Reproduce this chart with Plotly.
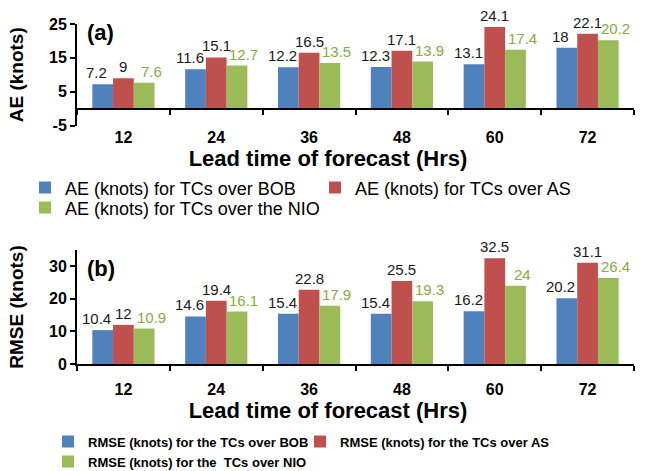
import plotly.graph_objects as go

lead_times = ["12", "24", "36", "48", "60", "72"]
ae_bob = [7.2, 11.6, 12.2, 12.3, 13.1, 18]
ae_as = [9, 15.1, 16.5, 17.1, 24.1, 22.1]
ae_nio = [7.6, 12.7, 13.5, 13.9, 17.4, 20.2]
rmse_bob = [10.4, 14.6, 15.4, 15.4, 16.2, 20.2]
rmse_as = [12, 19.4, 22.8, 25.5, 32.5, 31.1]
rmse_nio = [10.9, 16.1, 17.9, 19.3, 24, 26.4]

ae_names = ["AE (knots) for TCs over BOB", "AE (knots) for TCs over AS", "AE (knots) for TCs over the NIO"]
rmse_names = ["<b>RMSE (knots) for the TCs over BOB</b>", "<b>RMSE (knots) for the TCs over AS</b>",
              "<b>RMSE (knots) for the  TCs over NIO</b>"]

BLUE, RED, GREEN = "#4F81BD", "#C0504D", "#9BBB59"
GREEN_TXT = "#86AC3C"
FONT = "Liberation Sans"
W, H = 649, 471
XTITLE = "<b>Lead time of forecast (Hrs)</b>" + "&nbsp;" * 9
BARGAP = 0.33
X0, X1 = 77, 634


def py(px):
    return 1 - px / H


fig = go.Figure()
colors = [BLUE, RED, GREEN]
txtcolors = ["#1a1a1a", "#1a1a1a", GREEN_TXT]

# legend placement (text start x, row center y) in pixels
ae_leg = [(65, 186), (355, 186), (65, 206)]
rmse_leg = [(88, 440), (340, 440), (88, 460)]

bar_w = (X1 - X0) / len(lead_times) * (1 - BARGAP) / 3
label_spread = [-6, 0, 7]

panels = [([ae_bob, ae_as, ae_nio], ae_names, "x", "y", ["legend", "legend2", "legend3"]),
          ([rmse_bob, rmse_as, rmse_nio], rmse_names, "x2", "y2", ["legend4", "legend5", "legend6"])]

for series, names, xa, ya, legs in panels:
    for j, (vals, name) in enumerate(zip(series, names)):
        fig.add_trace(go.Bar(x=lead_times, y=vals, name=name,
                             marker=dict(color=colors[j], line=dict(width=0)),
                             xaxis=xa, yaxis=ya, legend=legs[j]))
        for idx, v in enumerate(vals):
            # category axes place annotations by category serial number
            fig.add_annotation(x=idx, y=v, xref=xa, yref=ya, text=f"{v:g}", showarrow=False,
                               yanchor="bottom", xanchor="center",
                               xshift=(j - 1) * bar_w + label_spread[j], yshift=1,
                               font=dict(size=15, family=FONT, color=txtcolors[j]))

axis_common = dict(showgrid=False, zeroline=False, showline=True, linecolor="black", linewidth=2,
                   ticks="outside", ticklen=5, tickwidth=2, tickcolor="black", automargin=False,
                   tickfont=dict(family=FONT, size=16, color="black"))

legends = {}
for k, (tx, ty) in enumerate(ae_leg + rmse_leg):
    key = "legend" if k == 0 else "legend%d" % (k + 1)
    fs = 18 if k < 3 else 13
    legends[key] = dict(orientation="h", x=(tx - 40) / W, y=py(ty - (5 + 0.65 * fs)),
                        xanchor="left", yanchor="top",
                        font=dict(size=fs, family=FONT, color="black"),
                        bgcolor="rgba(0,0,0,0)")

xrange = [-0.5, len(lead_times) - 0.5]

fig.update_layout(
    width=W, height=H,
    margin=dict(l=0, r=0, t=0, b=0, autoexpand=False),
    paper_bgcolor="white", plot_bgcolor="white",
    barmode="group", bargap=BARGAP, bargroupgap=0,
    font=dict(family=FONT, color="black"),
    xaxis=dict(**axis_common, type="category", categoryorder="array", categoryarray=lead_times,
               range=xrange, domain=[X0 / W, X1 / W], anchor="free", position=py(108.6),
               tickson="boundaries", ticklabelstandoff=14,
               title=dict(text=XTITLE, font=dict(size=22, family=FONT), standoff=3)),
    yaxis=dict(**axis_common, domain=[py(125.5), py(24)], range=[-5, 25], tickvals=[-5, 5, 15, 25],
               ticktext=["<b>-5</b>", "<b>5</b>", "<b>15</b>", "<b>25</b>"], anchor="x",
               title=dict(text="<b>AE (knots)</b>", font=dict(size=19, family=FONT), standoff=20)),
    xaxis2=dict(**axis_common, type="category", categoryorder="array", categoryarray=lead_times,
                range=xrange, domain=[X0 / W, X1 / W], anchor="y2", tickson="boundaries",
                ticklabelstandoff=10,
                title=dict(text=XTITLE, font=dict(size=22, family=FONT), standoff=0)),
    yaxis2=dict(**axis_common, domain=[py(364), py(250)], range=[0, 35], tickvals=[0, 10, 20, 30],
                ticktext=["<b>0</b>", "<b>10</b>", "<b>20</b>", "<b>30</b>"], anchor="x2",
                title=dict(text="<b>RMSE (knots)</b>", font=dict(size=19, family=FONT), standoff=20)),
    showlegend=True,
    **legends,
)

fig.update_xaxes(ticktext=["<b>%s</b>" % t for t in lead_times], tickvals=lead_times)

fig.add_annotation(text="<b>(a)</b>", xref="paper", yref="paper", x=85 / W, y=py(33),
                   xanchor="left", yanchor="middle", showarrow=False, font=dict(size=22, family=FONT))
fig.add_annotation(text="<b>(b)</b>", xref="paper", yref="paper", x=85 / W, y=py(268),
                   xanchor="left", yanchor="middle", showarrow=False, font=dict(size=22, family=FONT))

fig.write_html("out.html", config={"displayModeBar": False},
               post_script="document.body.style.margin='0px';")
